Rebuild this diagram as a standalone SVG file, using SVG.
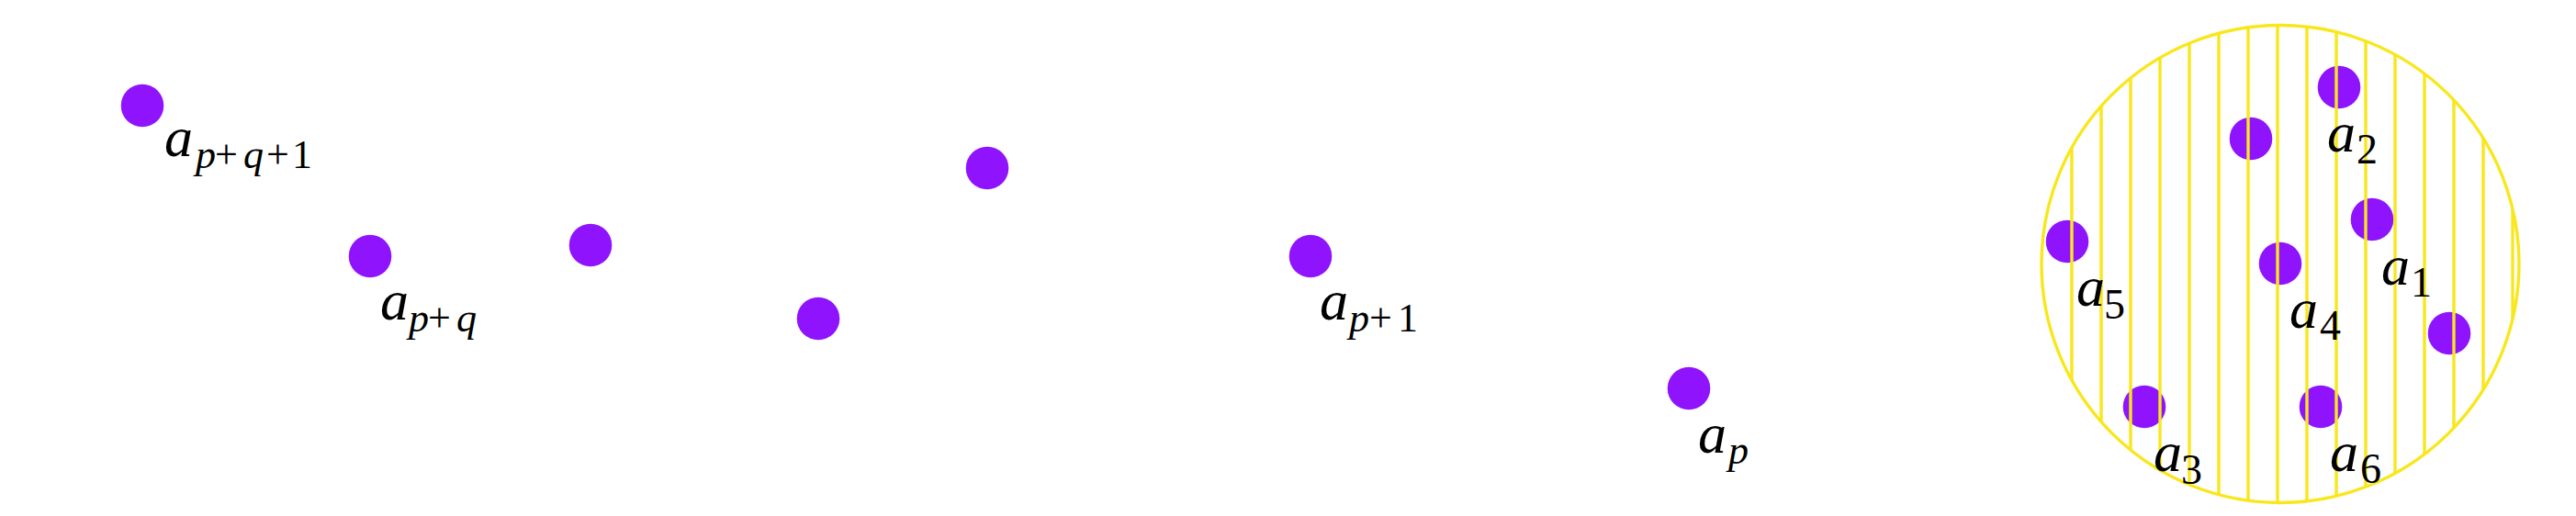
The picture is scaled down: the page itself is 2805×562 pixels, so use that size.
<svg xmlns="http://www.w3.org/2000/svg" width="2805" height="562" viewBox="0 0 2805 562">
<style>
.dot{fill:#9013fe}
.hatch line{stroke:#f8e71c;stroke-width:3.4}
.ring{fill:none;stroke:#f8e71c;stroke-width:3.4}
.v{font-family:"Liberation Serif","Times New Roman",serif;font-style:italic;font-size:62px;fill:#000}
.s{font-family:"Liberation Serif","Times New Roman",serif;font-size:44px;fill:#000}
.d{font-family:"Liberation Serif","Times New Roman",serif;font-size:46px;fill:#000}
.i{font-style:italic}
</style>
<defs>
<clipPath id="cc"><circle cx="2483" cy="287.5" r="260"/></clipPath>
</defs>
<rect width="2805" height="562" fill="#fff"/>
<g id="connectors"/>
<g id="n-pq1"><circle class="dot" cx="155" cy="115" r="23.3"/><text class="v" x="179" y="170">a</text><text class="s" y="182.5"><tspan class="i" x="213">p</tspan><tspan x="234">+</tspan><tspan class="i" x="265">q</tspan><tspan x="290">+</tspan><tspan x="318">1</tspan></text></g>
<g id="n-pq"><circle class="dot" cx="403" cy="279" r="23.3"/><text class="v" x="414" y="348">a</text><text class="s" y="360.5"><tspan class="i" x="445">p</tspan><tspan x="466">+</tspan><tspan class="i" x="497">q</tspan></text></g>
<g id="n-u1"><circle class="dot" cx="643" cy="267" r="23.3"/></g>
<g id="n-u2"><circle class="dot" cx="891" cy="347" r="23.3"/></g>
<g id="n-u3"><circle class="dot" cx="1075" cy="183" r="23.3"/></g>
<g id="n-p1"><circle class="dot" cx="1427" cy="279" r="23.3"/><text class="v" x="1437" y="348">a</text><text class="s" y="361"><tspan class="i" x="1469">p</tspan><tspan x="1491">+</tspan><tspan x="1522">1</tspan></text></g>
<g id="n-p"><circle class="dot" cx="1839" cy="423" r="23.3"/><text class="v" x="1849" y="493">a</text><text class="s i" x="1882" y="505">p</text></g>
<g id="set">
<g id="set-dots">
<circle class="dot" cx="2547" cy="95" r="23.3"/>
<circle class="dot" cx="2451" cy="151" r="23.3"/>
<circle class="dot" cx="2583" cy="239" r="23.3"/>
<circle class="dot" cx="2483" cy="287" r="23.3"/>
<circle class="dot" cx="2251" cy="263" r="23.3"/>
<circle class="dot" cx="2667" cy="363" r="23.3"/>
<circle class="dot" cx="2335" cy="443" r="23.3"/>
<circle class="dot" cx="2527" cy="443" r="23.3"/>
</g>
<g class="hatch" clip-path="url(#cc)">
<line x1="2256" y1="20" x2="2256" y2="555"/>
<line x1="2288" y1="20" x2="2288" y2="555"/>
<line x1="2320" y1="20" x2="2320" y2="555"/>
<line x1="2352" y1="20" x2="2352" y2="555"/>
<line x1="2384" y1="20" x2="2384" y2="555"/>
<line x1="2416" y1="20" x2="2416" y2="555"/>
<line x1="2448" y1="20" x2="2448" y2="555"/>
<line x1="2480" y1="20" x2="2480" y2="555"/>
<line x1="2512" y1="20" x2="2512" y2="555"/>
<line x1="2544" y1="20" x2="2544" y2="555"/>
<line x1="2576" y1="20" x2="2576" y2="555"/>
<line x1="2608" y1="20" x2="2608" y2="555"/>
<line x1="2640" y1="20" x2="2640" y2="555"/>
<line x1="2672" y1="20" x2="2672" y2="555"/>
<line x1="2704" y1="20" x2="2704" y2="555"/>
<line x1="2736" y1="20" x2="2736" y2="555"/>
</g>
<circle class="ring" cx="2483" cy="287.5" r="260"/>
<g id="n-a1"><text class="v" x="2593" y="310">a</text><text class="d" x="2625" y="323">1</text></g>
<g id="n-a2"><text class="v" x="2534" y="165">a</text><text class="d" x="2566" y="178">2</text></g>
<g id="n-a3"><text class="v" x="2345" y="513">a</text><text class="d" x="2375" y="527">3</text></g>
<g id="n-a4"><text class="v" x="2493" y="357">a</text><text class="d" x="2526" y="370">4</text></g>
<g id="n-a5"><text class="v" x="2261" y="333">a</text><text class="d" x="2291" y="347">5</text></g>
<g id="n-a6"><text class="v" x="2537" y="513">a</text><text class="d" x="2570" y="526">6</text></g>
</g>
</svg>
